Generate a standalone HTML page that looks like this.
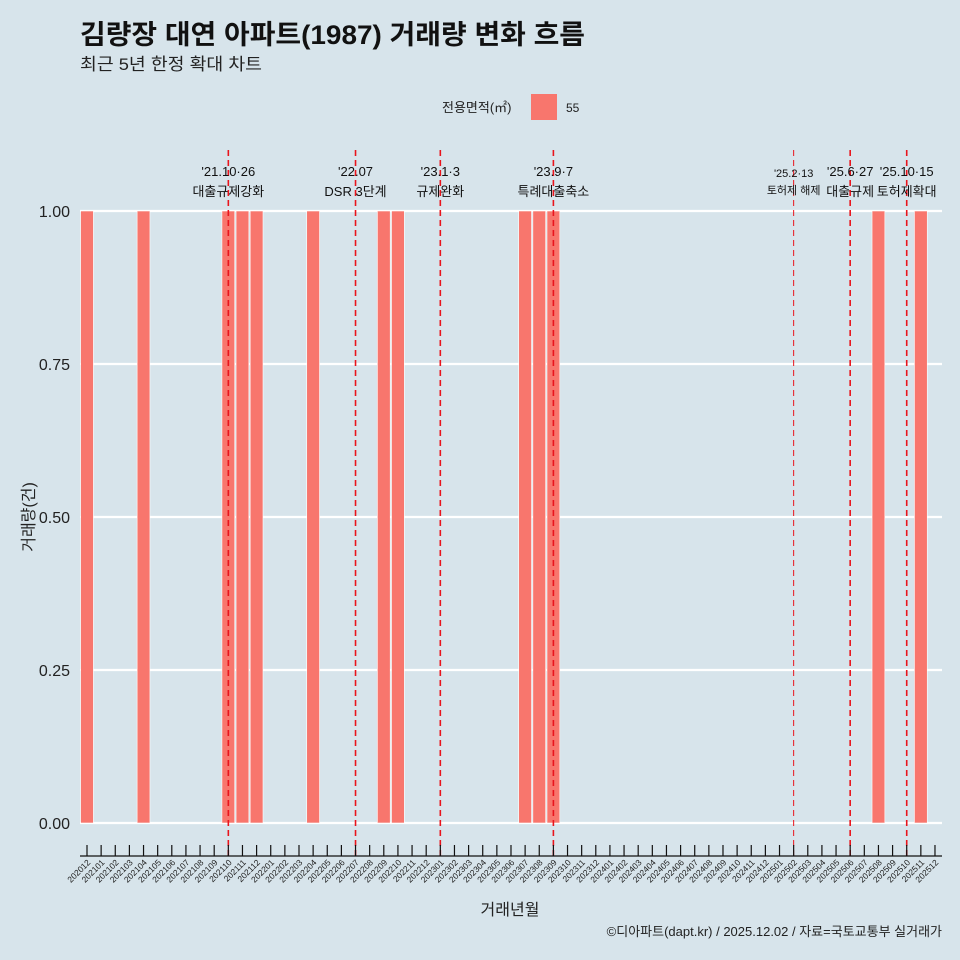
<!DOCTYPE html>
<html><head><meta charset="utf-8"><style>
body{margin:0;background:#d7e4eb;}
svg{display:block;font-family:"Liberation Sans","Noto Sans CJK KR",sans-serif;}
</style></head><body>
<svg id="chart" width="960" height="960" viewBox="0 0 960 960">
<rect width="960" height="960" fill="#d7e4eb"/>
<text x="80" y="44" font-size="27" font-weight="bold" fill="#111" textLength="505" lengthAdjust="spacingAndGlyphs">김량장 대연 아파트(1987) 거래량 변화 흐름</text>
<text x="80" y="70" font-size="17" fill="#222" textLength="182" lengthAdjust="spacingAndGlyphs">최근 5년 한정 확대 차트</text>
<g>
<text x="442" y="112" font-size="13" fill="#222">전용면적(㎡)</text>
<rect x="531" y="94" width="26" height="26" fill="#f8766d"/>
<text x="566" y="112" font-size="12" fill="#222">55</text>
</g>
<g id="grid"></g><g id="bars"></g><g id="vlines"></g><g id="xaxis"></g><g id="yaxis"></g>
<text x="510" y="915" font-size="16" text-anchor="middle" fill="#222">거래년월</text>
<text transform="translate(34,517) rotate(-90)" font-size="16" text-anchor="middle" fill="#222">거래량(건)</text>
<text x="942" y="936" font-size="13" text-anchor="end" fill="#222">©디아파트(dapt.kr) / 2025.12.02 / 자료=국토교통부 실거래가</text>
</svg>
<script>
const months=[];
for(let y=2020;y<=2025;y++)for(let m=1;m<=12;m++){const k=y*100+m;if(k>=202012&&k<=202512)months.push(String(k));}
const barMonths=["202012","202104","202110","202111","202112","202204","202209","202210","202307","202308","202309","202508","202511"];
const barValues=[1,1,1,1,1,1,1,1,1,1,1,1,1];
const yTicks=[0,0.25,0.5,0.75,1.0];
const yTickLabels=["0.00","0.25","0.50","0.75","1.00"];
const eventMonths=["202110","202207","202301","202309","202502","202506","202510"];
const eventDates=["'21.10·26","'22.07","'23.1·3","'23.9·7","'25.2·13","'25.6·27","'25.10·15"];
const eventLabels=["대출규제강화","DSR 3단계","규제완화","특례대출축소","토허제 해제","대출규제","토허제확대"];
const NS="http://www.w3.org/2000/svg";
const x0=87,step=14.133,yBase=823,yTop=211;
function xs(m){return x0+months.indexOf(m)*step;}
function ys(v){return yBase-(yBase-yTop)*v;}
function mk(tag,attrs,parent){const e=document.createElementNS(NS,tag);for(const k in attrs)e.setAttribute(k,attrs[k]);document.getElementById(parent).appendChild(e);return e;}
yTicks.forEach((v,i)=>{
 const l=mk("line",{x1:80,x2:942,y1:ys(v),y2:ys(v),stroke:"#fff","stroke-width":2.2},"grid");
 
 
 const t=mk("text",{x:70,y:ys(v)+6,"text-anchor":"end","font-size":16,fill:"#222"},"yaxis");
 t.textContent=yTickLabels[i];
 
 
});
barMonths.forEach((m,i)=>{
 const r=mk("rect",{x:xs(m)-6.4,y:ys(barValues[i]),width:12.8,height:ys(0)-ys(barValues[i]),fill:"#f8766d",stroke:"#ffffff","stroke-width":0.6},"bars");
 
 
});
const ax=mk("line",{x1:80,x2:942,y1:856,y2:856,stroke:"#111","stroke-width":1.2},"xaxis");


months.forEach(m=>{
 const x=xs(m);
 const t=mk("line",{x1:x,x2:x,y1:845,y2:856,stroke:"#111","stroke-width":1.2},"xaxis");
 
 
 const l=mk("text",{transform:`translate(${x+4},863) rotate(-45)`,"text-anchor":"end","font-size":8.5,fill:"#222"},"xaxis");
 l.textContent=m;
 
 
});
eventMonths.forEach((m,i)=>{
 const x=xs(m);const thin=m==="202502";
 const l=mk("line",{x1:x,x2:x,y1:150,y2:856,stroke:"#e8141c","stroke-width":thin?1:1.6,"stroke-dasharray":"6,4"},"vlines");
 
 
 const fs=thin?11:13;
 const d=mk("text",{x:x,y:thin?177:176,"text-anchor":"middle","font-size":fs,fill:"#111"},"vlines");
 d.textContent=eventDates[i];
 
 
 const t=mk("text",{x:x,y:thin?194:196,"text-anchor":"middle","font-size":fs,fill:"#111"},"vlines");
 t.textContent=eventLabels[i];
 
 
});
</script>
</body></html>
